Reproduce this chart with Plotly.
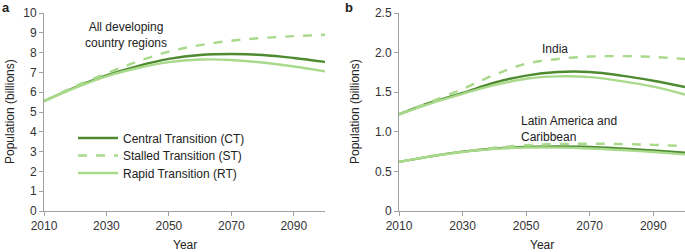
import plotly.graph_objects as go

years = [2010, 2020, 2030, 2040, 2050, 2060, 2070, 2080, 2090, 2100]

# Panel a: all developing country regions (billions)
dev_ct = [5.55, 6.25, 6.85, 7.32, 7.68, 7.88, 7.93, 7.88, 7.73, 7.53]
dev_st = [5.55, 6.30, 6.95, 7.55, 8.05, 8.38, 8.60, 8.74, 8.83, 8.90]
dev_rt = [5.55, 6.22, 6.80, 7.22, 7.52, 7.65, 7.63, 7.50, 7.30, 7.05]

# Panel b: India
ind_ct = [1.22, 1.37, 1.49, 1.62, 1.71, 1.755, 1.755, 1.71, 1.645, 1.565]
ind_st = [1.22, 1.38, 1.54, 1.72, 1.86, 1.92, 1.95, 1.955, 1.945, 1.92]
ind_rt = [1.22, 1.36, 1.48, 1.59, 1.67, 1.70, 1.69, 1.64, 1.57, 1.47]

# Panel b: Latin America and Caribbean
lac_ct = [0.62, 0.69, 0.75, 0.79, 0.81, 0.815, 0.81, 0.79, 0.765, 0.735]
lac_st = [0.62, 0.69, 0.75, 0.80, 0.83, 0.845, 0.85, 0.845, 0.835, 0.82]
lac_rt = [0.62, 0.69, 0.745, 0.785, 0.80, 0.80, 0.79, 0.77, 0.745, 0.715]

x_ticks = [2010, 2030, 2050, 2070, 2090]
ya_ticks = [0, 1, 2, 3, 4, 5, 6, 7, 8, 9, 10]
yb_ticks = [0, 0.5, 1.0, 1.5, 2.0, 2.5]
yb_labels = ["0", "0.5", "1.0", "1.5", "2.0", "2.5"]

DARK = "#4e8b30"
LIGHT = "#a9d98b"
W = 685
H = 252
ML, MR, MT, MB = 44, 0, 13, 41
PW = W - ML - MR
PH = H - MT - MB

def px(xp):
    return (xp - ML) / PW

def py(yp):
    return (H - MB - yp) / PH

fig = go.Figure()

def add(x, y, color, dash, name, xa, ya, show, legend="legend"):
    fig.add_trace(go.Scatter(
        x=x, y=y, mode="lines", name=name,
        line=dict(color=color, width=2.4, dash=dash, shape="spline"),
        xaxis=xa, yaxis=ya, showlegend=show, legend=legend, hoverinfo="skip"))

add(years, dev_ct, DARK, "solid", "Central Transition (CT)", "x", "y", False)
add(years, dev_st, LIGHT, "dash", "Stalled Transition (ST)", "x", "y", False)
add(years, dev_rt, LIGHT, "solid", "Rapid Transition (RT)", "x", "y", False)

for ct, st, rt in [(ind_ct, ind_st, ind_rt), (lac_ct, lac_st, lac_rt)]:
    add(years, ct, DARK, "solid", "CT", "x2", "y2", False)
    add(years, st, LIGHT, "dash", "ST", "x2", "y2", False)
    add(years, rt, LIGHT, "solid", "RT", "x2", "y2", False)

# legend entries, each in its own legend box for exact row spacing
add([None], [None], DARK, "solid", "Central Transition (CT)", "x", "y", True, "legend")
add([None], [None], LIGHT, "dash", "Stalled Transition (ST)", "x", "y", True, "legend2")
add([None], [None], LIGHT, "solid", "Rapid Transition (RT)", "x", "y", True, "legend3")

axis_common = dict(
    showline=True, linecolor="#a0a0a0", linewidth=1,
    ticks="outside", tickcolor="#a0a0a0", ticklen=4,
    showgrid=False, zeroline=False,
    tickfont=dict(size=12, color="#333333", family="Liberation Sans"),
)

def leg(ycenter):
    return dict(x=px(73), y=py(ycenter), xanchor="left", yanchor="middle",
                bgcolor="rgba(0,0,0,0)", font=dict(size=12, color="#222222"),
                itemwidth=40, borderwidth=0)

fig.update_layout(
    width=W, height=H,
    margin=dict(l=ML, r=MR, t=MT, b=MB),
    paper_bgcolor="white", plot_bgcolor="white",
    font=dict(family="Liberation Sans", size=12, color="#222222"),
    xaxis=dict(domain=[0, px(325)], range=[2010, 2100], tickvals=x_ticks,
               anchor="y", **axis_common),
    yaxis=dict(domain=[0, 1], range=[0, 10], tickvals=ya_ticks,
               anchor="x", **axis_common),
    xaxis2=dict(domain=[px(399), 1], range=[2010, 2100], tickvals=x_ticks,
                anchor="y2", **axis_common),
    yaxis2=dict(domain=[0, 1], range=[0, 2.5], tickvals=yb_ticks, ticktext=yb_labels,
                anchor="x2", **axis_common),
    legend=leg(138),
    legend2=leg(155.5),
    legend3=leg(173),
    showlegend=True,
)

def ann(text, x, y, xanchor="center", yanchor="middle", size=12, bold=False, textangle=0, align="center"):
    fig.add_annotation(
        text=("<b>%s</b>" % text) if bold else text,
        xref="paper", yref="paper",
        x=px(x), y=py(y),
        xanchor=xanchor, yanchor=yanchor, showarrow=False,
        font=dict(size=size, color="#222222", family="Liberation Sans"),
        textangle=textangle, align=align)

ann("a", 0, 8, xanchor="left", size=13, bold=True)
ann("b", 343, 8, xanchor="left", size=13, bold=True)
ann("Population (billions)", 10, 112, textangle=-90)
ann("Population (billions)", 355, 112, textangle=-90)
ann("Year", 185, 245)
ann("Year", 542, 245)
ann("All developing<br>country regions", 126, 35)
ann("India", 555, 49)
ann("Latin America and<br>Caribbean", 519, 129, xanchor="left", align="left")

fig.write_html("out.html", config={"displayModeBar": False},
               post_script="document.body.style.margin='0';document.body.style.padding='0';")
